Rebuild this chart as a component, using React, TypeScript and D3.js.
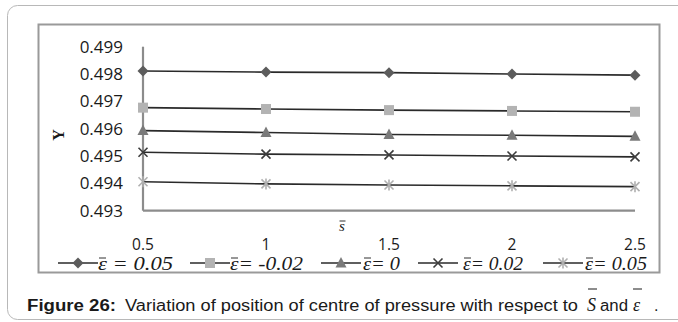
import React from "react";
import * as d3 from "d3";

// Roughness parameter s̄ along the x axis
const sValues = [0.5, 1, 1.5, 2, 2.5];
const xTickLabels = ["0.5", "1", "1.5", "2", "2.5"];
const yTicks = [0.493, 0.494, 0.495, 0.496, 0.497, 0.498, 0.499];

// Position of centre of pressure Y for each eccentricity series
const seriesEps005a = [0.49811, 0.49807, 0.49805, 0.498, 0.49796];
const seriesEpsM002 = [0.49677, 0.49672, 0.49668, 0.49665, 0.49662];
const seriesEps0 = [0.49593, 0.49586, 0.49579, 0.49576, 0.49572];
const seriesEps002 = [0.49514, 0.49507, 0.49504, 0.495, 0.49497];
const seriesEps005b = [0.49406, 0.49398, 0.49394, 0.49391, 0.49388];

const seriesLabels = [" = 0.05", "= -0.02", "= 0", "= 0.02", "= 0.05"];

type Marker = "diamond" | "square" | "triangle" | "x" | "star";

const series: { values: number[]; label: string; marker: Marker; color: string }[] = [
  { values: seriesEps005a, label: seriesLabels[0], marker: "diamond", color: "#5c5c5c" },
  { values: seriesEpsM002, label: seriesLabels[1], marker: "square", color: "#b3b3b3" },
  { values: seriesEps0, label: seriesLabels[2], marker: "triangle", color: "#7a7a7a" },
  { values: seriesEps002, label: seriesLabels[3], marker: "x", color: "#3c3c3c" },
  { values: seriesEps005b, label: seriesLabels[4], marker: "star", color: "#b0b0b0" },
];

const W = 678;
const H = 322;
const plot = { left: 143, right: 635, top: 46.7, bottom: 210.7 };

function MarkerShape({ type, x, y, color }: { type: Marker; x: number; y: number; color: string }) {
  switch (type) {
    case "diamond":
      return <path d={`M${x},${y - 5.5}L${x + 5.5},${y}L${x},${y + 5.5}L${x - 5.5},${y}Z`} fill={color} />;
    case "square":
      return <rect x={x - 5} y={y - 5} width={10} height={10} fill={color} />;
    case "triangle":
      return <path d={`M${x},${y - 6}L${x + 5.5},${y + 4.5}L${x - 5.5},${y + 4.5}Z`} fill={color} />;
    case "x":
      return (
        <path
          d={`M${x - 4.5},${y - 4.5}L${x + 4.5},${y + 4.5}M${x - 4.5},${y + 4.5}L${x + 4.5},${y - 4.5}`}
          stroke={color}
          strokeWidth={1.6}
        />
      );
    case "star":
      return (
        <path
          d={`M${x - 4.5},${y - 4.5}L${x + 4.5},${y + 4.5}M${x - 4.5},${y + 4.5}L${x + 4.5},${y - 4.5}M${x},${y - 5.5}L${x},${y + 5.5}`}
          stroke={color}
          strokeWidth={1.6}
        />
      );
  }
}

export default function App() {
  const x = d3.scaleLinear().domain([0.5, 2.5]).range([plot.left, plot.right]);
  const y = d3.scaleLinear().domain([0.493, 0.499]).range([plot.bottom, plot.top]);
  const line = d3
    .line<number>()
    .x((_, i) => x(sValues[i]))
    .y((d) => y(d));

  const legendItems = [
    { lineX: 58, textX: 98, textW: 75 },
    { lineX: 190, textX: 230, textW: 73 },
    { lineX: 321, textX: 363, textW: 37 },
    { lineX: 418, textX: 463, textW: 60 },
    { lineX: 543, textX: 585, textW: 62 },
  ];
  const legendY = 263;
  const ink = "#1a1a1a";
  const sans = "'Liberation Sans', Arial, sans-serif";
  const serif = "'Liberation Serif', serif";

  return (
    <svg
      width={W}
      height={H}
      style={{ position: "absolute", left: 0, top: 0, background: "#fff" }}
    >
      {/* outer panel */}
      <rect x={7.5} y={5.5} width={690} height={314} rx={10} fill="#fff" stroke="#b8b8b8" strokeWidth={1} />
      {/* chart frame */}
      <rect x={38.5} y={24.5} width={621} height={248} fill="#fff" stroke="#9a9a9a" strokeWidth={2} />

      {/* axes */}
      <line x1={plot.left} x2={plot.left} y1={plot.top} y2={plot.bottom} stroke="#8c8c8c" strokeWidth={2.2} />
      <line x1={plot.left} x2={plot.right} y1={plot.bottom} y2={plot.bottom} stroke="#8c8c8c" strokeWidth={2.2} />

      {/* y tick labels */}
      {yTicks.map((t) => (
        <text
          key={t}
          x={123}
          y={y(t)}
          dy="0.36em"
          textAnchor="end"
          fontFamily="'Open Sans', sans-serif"
          fontSize={17}
          fill={ink}
        >
          {t.toFixed(3)}
        </text>
      ))}
      <text
        transform={`translate(64,135) rotate(-90)`}
        textAnchor="middle"
        fontFamily={serif}
        fontWeight="bold"
        fontSize={16}
        fill={ink}
      >
        Y
      </text>

      {/* x tick labels */}
      {sValues.map((s, i) => (
        <text
          key={s}
          x={x(s)}
          y={250}
          textAnchor="middle"
          fontFamily="'Open Sans', sans-serif"
          fontSize={15.5}
          fill={ink}
        >
          {xTickLabels[i]}
        </text>
      ))}
      <text x={339} y={231} fontFamily={serif} fontStyle="italic" fontSize={15} fill={ink}>
        s
      </text>
      <line x1={339.5} x2={345.5} y1={221} y2={221} stroke={ink} strokeWidth={0.9} />

      {/* series */}
      {series.map((s) => (
        <g key={s.marker}>
          <path d={line(s.values) ?? ""} fill="none" stroke="#2a2a2a" strokeWidth={1.6} />
          {s.values.map((v, i) => (
            <MarkerShape key={i} type={s.marker} x={x(sValues[i])} y={y(v)} color={s.color} />
          ))}
        </g>
      ))}

      {/* legend */}
      {series.map((s, i) => {
        const it = legendItems[i];
        return (
          <g key={`lg${i}`}>
            <line x1={it.lineX} x2={it.lineX + 40} y1={legendY} y2={legendY} stroke="#2a2a2a" strokeWidth={1.6} />
            <MarkerShape type={s.marker} x={it.lineX + 20} y={legendY} color={s.color} />
            <text
              x={it.textX}
              y={legendY + 7}
              fontFamily={serif}
              fontStyle="italic"
              fontSize={19}
              fill={ink}
              textLength={it.textW}
              lengthAdjust="spacingAndGlyphs"
            >
              ε{s.label}
            </text>
            <line x1={it.textX + 1} x2={it.textX + 8} y1={legendY - 5} y2={legendY - 5} stroke={ink} strokeWidth={0.9} />
          </g>
        );
      })}

      {/* caption */}
      <g fontFamily={sans} fontSize={16} fill={ink}>
        <text x={27} y={311} fontWeight="bold" textLength={89} lengthAdjust="spacingAndGlyphs">
          Figure 26:
        </text>
        <text x={125} y={311} textLength={453} lengthAdjust="spacingAndGlyphs">
          Variation of position of centre of pressure with respect to
        </text>
        <text x={587} y={311} fontFamily={serif} fontStyle="italic" fontSize={18}>
          S
        </text>
        <line x1={588} x2={597} y1={289} y2={289} stroke={ink} strokeWidth={1} />
        <text x={600} y={311} textLength={28} lengthAdjust="spacingAndGlyphs">
          and
        </text>
        <text x={633} y={311} fontFamily={serif} fontStyle="italic" fontSize={18}>
          ε
        </text>
        <line x1={633} x2={642} y1={289} y2={289} stroke={ink} strokeWidth={1} />
        <text x={654} y={311}>.</text>
      </g>
    </svg>
  );
}
